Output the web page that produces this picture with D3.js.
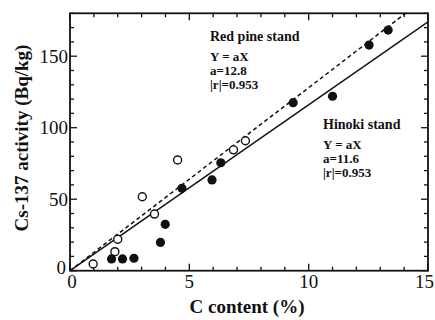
<!DOCTYPE html>
<html>
<head>
<meta charset="utf-8">
<script src="https://cdn.jsdelivr.net/npm/d3@7"></script>
<style>
  body { margin: 0; background: #fff; }
  svg { display: block; }
</style>
</head>
<body>
<svg id="chart" width="435" height="320"></svg>
<script>
// data
const openX = [0.97, 1.88, 2.0, 3.03, 3.54, 4.51, 6.85, 7.35];
const openY = [4.7, 13.3, 22, 51.7, 39.6, 77.4, 84.5, 90.9];
const filledX = [1.74, 2.2, 2.68, 3.79, 3.99, 4.69, 5.95, 6.32, 9.35, 11.0, 12.53, 13.33];
const filledY = [8.2, 8.2, 8.7, 19.8, 32.4, 57.6, 63.5, 75.5, 117.5, 122, 157.8, 168.3];
const xTicks = [0, 5, 10, 15];
const yTicks = [0, 50, 100, 150];
const slopeHinoki = 11.6;   // solid line
const slopeRedPine = 12.8;  // dashed line

const svg = d3.select('#chart');
const margin = { left: 70, top: 13.3 };
const innerW = 428 - margin.left;
const innerH = 270.7 - margin.top;
const font = '"Liberation Serif", "DejaVu Serif", serif';

const x = d3.scaleLinear().domain([0, 15]).range([0, innerW]);
const y = d3.scaleLinear().domain([0, 180]).range([innerH, 0]);

const g = svg.append('g').attr('transform', `translate(${margin.left},${margin.top})`);

// clip for lines
g.append('clipPath').attr('id', 'clip')
  .append('rect').attr('width', innerW).attr('height', innerH);

// ticks on all four sides, pointing inward
function drawTicks() {
  const minorX = d3.range(0, 15.01, 1);
  const minorY = d3.range(0, 180.01, 10);
  const tg = g.append('g').attr('stroke', '#111').attr('stroke-width', 1.3);
  minorX.forEach(v => {
    const len = v % 5 === 0 ? 7 : 4;
    tg.append('line').attr('x1', x(v)).attr('x2', x(v)).attr('y1', innerH).attr('y2', innerH - len);
    tg.append('line').attr('x1', x(v)).attr('x2', x(v)).attr('y1', 0).attr('y2', len);
  });
  minorY.forEach(v => {
    const len = v % 50 === 0 ? 7 : 4;
    tg.append('line').attr('y1', y(v)).attr('y2', y(v)).attr('x1', 0).attr('x2', len);
    tg.append('line').attr('y1', y(v)).attr('y2', y(v)).attr('x1', innerW).attr('x2', innerW - len);
  });
}
drawTicks();

// frame
g.append('rect')
  .attr('width', innerW).attr('height', innerH)
  .attr('fill', 'none').attr('stroke', '#111').attr('stroke-width', 1.8);

// tick labels (origin "0"s sit close together; last one pulled in to stay on the page)
g.selectAll('.xl').data(xTicks).enter().append('text')
  .attr('x', d => x(d) + (d === 0 ? 2 : 0))
  .attr('y', innerH + 17.5)
  .attr('text-anchor', d => d === 15 ? 'end' : 'middle')
  .attr('dx', d => d === 15 ? 6 : 0)
  .attr('font-family', font).attr('font-size', 19).attr('fill', '#111')
  .text(d => d);

g.selectAll('.yl').data(yTicks).enter().append('text')
  .attr('x', d => d === 0 ? -4 : -2).attr('y', d => y(d) - (d === 0 ? 3 : 0)).attr('dy', '0.35em')
  .attr('text-anchor', 'end')
  .attr('font-family', font).attr('font-size', 19).attr('fill', '#111')
  .text(d => d);

// regression lines through origin
const line = d3.line().x(d => x(d[0])).y(d => y(d[1]));
g.append('path')
  .attr('d', line([[0, 0], [15, slopeHinoki * 15]]))
  .attr('clip-path', 'url(#clip)')
  .attr('fill', 'none').attr('stroke', '#111').attr('stroke-width', 1.5);
g.append('path')
  .attr('d', line([[0, 0], [180 / slopeRedPine, 180]]))
  .attr('clip-path', 'url(#clip)')
  .attr('fill', 'none').attr('stroke', '#111').attr('stroke-width', 1.5)
  .attr('stroke-dasharray', '4,3');

// points
g.selectAll('.open').data(openX).enter().append('circle')
  .attr('cx', d => x(d)).attr('cy', (d, i) => y(openY[i])).attr('r', 4)
  .attr('fill', '#fff').attr('stroke', '#111').attr('stroke-width', 1.4);
g.selectAll('.filled').data(filledX).enter().append('circle')
  .attr('cx', d => x(d)).attr('cy', (d, i) => y(filledY[i])).attr('r', 4.6)
  .attr('fill', '#111');

// annotations
function note(tx, ty, lines) {
  const t = g.append('text').attr('font-family', font).attr('font-weight', 'bold')
    .attr('fill', '#111');
  lines.forEach((s, i) => {
    t.append('tspan').attr('x', tx).attr('y', ty + [0, 20, 34, 48][i])
      .attr('font-size', i === 0 ? 14 : 13).text(s);
  });
}
note(210 - margin.left, 41 - margin.top, ['Red pine stand', 'Y = aX', 'a=12.8', '|r|=0.953']);
note(323 - margin.left, 129 - margin.top, ['Hinoki stand', 'Y = aX', 'a=11.6', '|r|=0.953']);

// axis titles
svg.append('text')
  .attr('x', 247).attr('y', 313)
  .attr('text-anchor', 'middle')
  .attr('font-family', font).attr('font-weight', 'bold').attr('font-size', 19).attr('fill', '#111')
  .text('C content (%)');
svg.append('text')
  .attr('transform', 'translate(28,138) rotate(-90)')
  .attr('text-anchor', 'middle')
  .attr('font-family', font).attr('font-weight', 'bold').attr('font-size', 19).attr('fill', '#111')
  .text('Cs-137 activity (Bq/kg)');
</script>
</body>
</html>
